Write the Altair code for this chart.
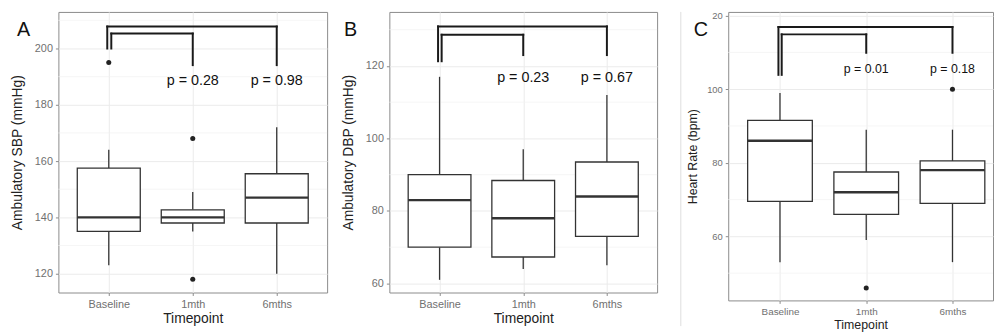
import altair as alt
import pandas as pd

FONT = "Liberation Sans"

categories = ["Baseline", "1mth", "6mths"]
cat_index = [1, 2, 3]

# ---------- Panel A : Ambulatory SBP ----------
a_low = [123, 135, 120]
a_q1 = [135, 138, 138]
a_med = [140, 140, 147]
a_q3 = [157.5, 142.7, 155.5]
a_high = [164, 149, 172]
a_out_cat = [1, 2, 2]
a_out_val = [195, 168, 118]
a_br_x1 = [0.982, 1.03]
a_br_x2 = [3, 2]
a_br_top = [207.8, 205.3]
a_br_lbot = [200, 200]
a_br_rbot = [194.1, 194.1]
a_p_cat = [2, 3]
a_p_y = [187.0, 187.0]
a_p_txt = ["p = 0.28", "p = 0.98"]
a_yticks = [120, 140, 160, 180, 200]
a_yminor = [130, 150, 170, 190, 210]

# ---------- Panel B : Ambulatory DBP ----------
b_low = [61, 64, 65]
b_q1 = [70, 67.3, 73]
b_med = [83, 78, 84]
b_q3 = [90, 88.4, 93.5]
b_high = [117, 97, 112]
b_out_cat = []
b_out_val = []
b_br_x1 = [0.982, 1.025]
b_br_x2 = [3, 2]
b_br_top = [130.9, 128.6]
b_br_lbot = [121.3, 121.3]
b_br_rbot = [123, 123]
b_p_cat = [2, 3]
b_p_y = [115.5, 115.5]
b_p_txt = ["p = 0.23", "p = 0.67"]
b_yticks = [60, 80, 100, 120]
b_yminor = [70, 90, 110, 130]

# ---------- Panel C : Heart rate ----------
c_low = [53, 59, 53]
c_q1 = [69.5, 66, 69]
c_med = [86, 72, 78]
c_q3 = [91.5, 77.5, 80.5]
c_high = [99, 89, 89]
c_out_cat = [2, 3]
c_out_val = [46, 100]
c_br_x1 = [0.982, 1.02]
c_br_x2 = [3, 2]
c_br_top = [116.9, 114.9]
c_br_lbot = [103.9, 103.9]
c_br_rbot = [109.9, 109.9]
c_p_cat = [2, 3]
c_p_y = [104.5, 104.5]
c_p_txt = ["p = 0.01", "p = 0.18"]
c_yticks = [60, 80, 100, 120]
c_yminor = [50, 70, 90, 110]

LABEL_EXPR = "[" + ",".join("'%s'" % c for c in categories) + "][datum.value - 1]"


def make_panel(letter, ytitle, ydom, yticks, yminor, low, q1, med, q3, high,
               out_cat, out_val, br_x1, br_x2, br_top, br_lbot, br_rbot,
               p_cat, p_y, p_txt, width, height, xdom, tick_fs, ylab_fs,
               title_fs, p_fs, letter_dx, ytitle_pad, ylabel_expr=None,
               separator=False):
    xs = alt.Scale(domain=xdom, nice=False, zero=False)
    ys = alt.Scale(domain=ydom, nice=False, zero=False)
    x_axis = alt.Axis(values=cat_index, labelExpr=LABEL_EXPR, grid=True,
                      gridColor="#ebebeb", gridWidth=1, domain=False,
                      tickColor="#8a8a8a", tickSize=3, labelPadding=3,
                      labelFont=FONT, labelFontSize=tick_fs, labelColor="#707070",
                      titleFont=FONT, titleFontSize=title_fs, titleColor="#222222",
                      titleFontWeight="normal", titlePadding=2)
    yargs = dict(values=yticks, grid=True, gridColor="#ebebeb", gridWidth=1,
                 domain=False, tickColor="#8a8a8a", tickSize=3, labelPadding=3,
                 labelFont=FONT, labelFontSize=ylab_fs, labelColor="#707070",
                 titleFont=FONT, titleFontSize=title_fs, titleColor="#222222",
                 titleFontWeight="normal", titlePadding=ytitle_pad)
    if ylabel_expr:
        yargs["labelExpr"] = ylabel_expr
    y_axis = alt.Axis(**yargs)

    def X(f):
        return alt.X(f, type="quantitative", scale=xs, axis=x_axis, title="Timepoint")

    def Y(f):
        return alt.Y(f, type="quantitative", scale=ys, axis=y_axis, title=ytitle)

    boxes = pd.DataFrame({"i": cat_index, "low": low, "q1": q1, "med": med,
                          "q3": q3, "high": high})
    boxes_base = alt.Chart(boxes).transform_calculate(
        xl="datum.i - 0.375", xr="datum.i + 0.375")

    minor = alt.Chart(pd.DataFrame({"v": yminor})).mark_rule(
        color="#f2f2f2", strokeWidth=0.7).encode(y=Y("v"))

    w_lo = boxes_base.mark_rule(color="#333333", strokeWidth=1.3).encode(
        x=X("i"), y=Y("low"), y2="q1")
    w_hi = boxes_base.mark_rule(color="#333333", strokeWidth=1.3).encode(
        x=X("i"), y=Y("q3"), y2="high")
    rect = boxes_base.mark_rect(fill="white", stroke="#333333", strokeWidth=1.3).encode(
        x=X("xl"), x2="xr", y=Y("q1"), y2="q3")
    median = boxes_base.mark_rule(color="#333333", strokeWidth=2.4).encode(
        x=X("xl"), x2="xr", y=Y("med"))

    layers = [minor, w_lo, w_hi, rect, median]

    if out_cat:
        outl = alt.Chart(pd.DataFrame({"i": out_cat, "v": out_val})).mark_circle(
            size=26, color="#222222", opacity=1).encode(x=X("i"), y=Y("v"))
        layers.append(outl)

    br = pd.DataFrame({"x1": br_x1, "x2": br_x2, "top": br_top,
                       "lbot": br_lbot, "rbot": br_rbot})
    bb = alt.Chart(br)
    layers += [
        bb.mark_rule(color="#1a1a1a", strokeWidth=2, strokeCap="square").encode(
            x=X("x1"), x2="x2", y=Y("top")),
        bb.mark_rule(color="#1a1a1a", strokeWidth=2, strokeCap="square").encode(
            x=X("x1"), y=Y("top"), y2="lbot"),
        bb.mark_rule(color="#1a1a1a", strokeWidth=2, strokeCap="square").encode(
            x=X("x2"), y=Y("top"), y2="rbot"),
    ]

    ptxt = alt.Chart(pd.DataFrame({"i": p_cat, "py": p_y, "t": p_txt})).mark_text(
        font=FONT, fontSize=p_fs, color="#111111", align="center",
        baseline="alphabetic").encode(x=X("i"), y=Y("py"), text="t:N")
    layers.append(ptxt)

    let = alt.Chart(pd.DataFrame({"letter": [letter]})).mark_text(
        font=FONT, fontSize=20, color="#111111", align="left",
        baseline="alphabetic").encode(x=alt.value(letter_dx), y=alt.value(24),
                                      text="letter:N")
    layers.append(let)

    if separator:
        sep = alt.Chart(pd.DataFrame({"s": [0]})).mark_rule(
            color="#dddddd", strokeWidth=1).encode(
            x=alt.value(-48), y=alt.value(0), y2=alt.value(height + 26))
        layers.append(sep)

    return alt.layer(*layers).properties(width=width, height=height)


panel_a = make_panel("A", "Ambulatory SBP (mmHg)", [113.3, 213.0], a_yticks, a_yminor,
                     a_low, a_q1, a_med, a_q3, a_high, a_out_cat, a_out_val,
                     a_br_x1, a_br_x2, a_br_top, a_br_lbot, a_br_rbot,
                     a_p_cat, a_p_y, a_p_txt, 272, 284, [0.4, 3.6],
                     11, 11, 14, 14.5, -42, 9.5)

panel_b = make_panel("B", "Ambulatory DBP (mmHg)", [57.5, 134.9], b_yticks, b_yminor,
                     b_low, b_q1, b_med, b_q3, b_high, b_out_cat, b_out_val,
                     b_br_x1, b_br_x2, b_br_top, b_br_lbot, b_br_rbot,
                     b_p_cat, b_p_y, b_p_txt, 271, 284, [0.4, 3.6],
                     11, 11, 14, 14.5, -46, 9.5)

panel_c = make_panel("C", "Heart Rate (bpm)", [42.6, 121.0], c_yticks, c_yminor,
                     c_low, c_q1, c_med, c_q3, c_high, c_out_cat, c_out_val,
                     c_br_x1, c_br_x2, c_br_top, c_br_lbot, c_br_rbot,
                     c_p_cat, c_p_y, c_p_txt, 268, 292, [0.4, 3.47],
                     10, 9.5, 12.5, 12.5, -35, 7,
                     ylabel_expr="datum.value == 120 ? '20' : datum.label",
                     separator=True)

chart = alt.hconcat(
    alt.hconcat(panel_a, panel_b, spacing=13),
    panel_c, spacing=22,
).properties(
    padding={"left": 2, "top": 0, "right": 0, "bottom": 0},
    background="white",
).configure_view(stroke="#8a8a8a", strokeWidth=1)

chart.save("out.html", embed_options={"renderer": "svg", "actions": False})
